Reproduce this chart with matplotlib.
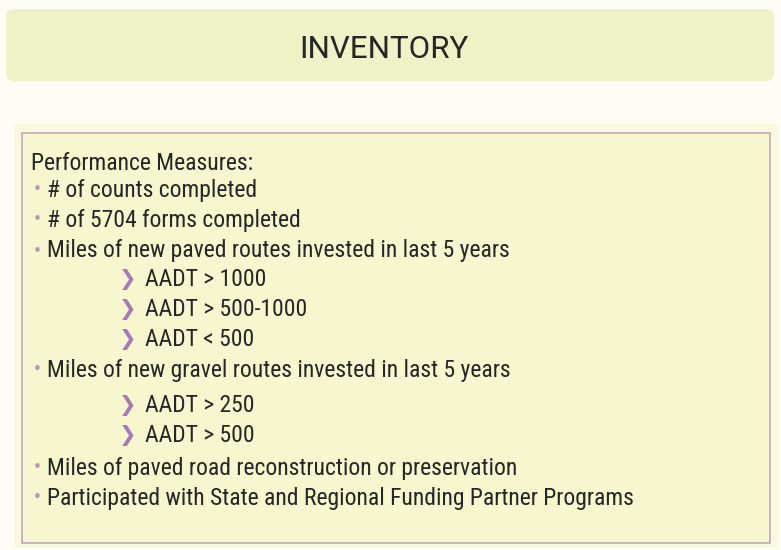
import matplotlib.pyplot as plt
from matplotlib.patches import FancyBboxPatch, Rectangle
from matplotlib import font_manager

# Slide content
title = "INVENTORY"
heading = "Performance Measures:"
items = [
    (0, "# of counts completed"),
    (0, "# of 5704 forms completed"),
    (0, "Miles of new paved routes invested in last 5 years"),
    (1, "AADT > 1000"),
    (1, "AADT > 500-1000"),
    (1, "AADT < 500"),
    (0, "Miles of new gravel routes invested in last 5 years"),
    (1, "AADT > 250"),
    (1, "AADT > 500"),
    (0, "Miles of paved road reconstruction or preservation"),
    (0, "Participated with State and Regional Funding Partner Programs"),
]
item_y = [190, 220, 251, 280, 310, 340, 370, 405, 435, 468, 498]

# pick a condensed face if there is one
names = {f.name for f in font_manager.fontManager.ttflist}
body = 'Roboto'
for cand in ['Roboto Condensed', 'Liberation Sans Narrow', 'Open Sans Condensed', 'Noto Sans Condensed']:
    if cand in names:
        body = cand
        break
body_font = [body, 'DejaVu Sans']
size = 15.5 if body == 'Roboto' else 17

text_col = '#262626'
bullet_col = '#b794b0'
arrow_col = '#a878b8'

fig = plt.figure(figsize=(7.81, 5.5), dpi=100)
fig.patch.set_facecolor('#fdfdf6')
ax = fig.add_axes([0, 0, 1, 1])
ax.set_xlim(0, 781)
ax.set_ylim(550, 0)
ax.axis('off')

# header band
ax.add_patch(FancyBboxPatch((6, 9), 768, 72, boxstyle='round,pad=0,rounding_size=8',
                            facecolor='#eef2c6', edgecolor='none'))
ax.text(384, 50, title, fontsize=22.5, family=['Roboto', 'DejaVu Sans'], color=text_col,
        ha='center', va='center')

# content box with soft halo
ax.add_patch(Rectangle((14, 124), 764, 424, facecolor='#f9f9e0', edgecolor='none'))
ax.add_patch(Rectangle((22, 133), 748, 410, facecolor='#f6f6cf',
                       edgecolor='#c3a6bf', linewidth=1.2))

ax.text(31, 163, heading, fontsize=size, family=body_font, color=text_col, va='center')

for (level, label), y in zip(items, item_y):
    if level == 0:
        ax.text(33, y, "\u2022", fontsize=11, color=bullet_col, va='center')
        ax.text(47, y, label, fontsize=size, family=body_font, color=text_col, va='center')
    else:
        ax.text(119, y, "\u276F", fontsize=15, color=arrow_col, va='center',
                family=['DejaVu Sans'], fontweight='bold')
        ax.text(145, y, label, fontsize=size, family=body_font, color=text_col, va='center')

fig.savefig('out.png', dpi=100, facecolor=fig.get_facecolor())
